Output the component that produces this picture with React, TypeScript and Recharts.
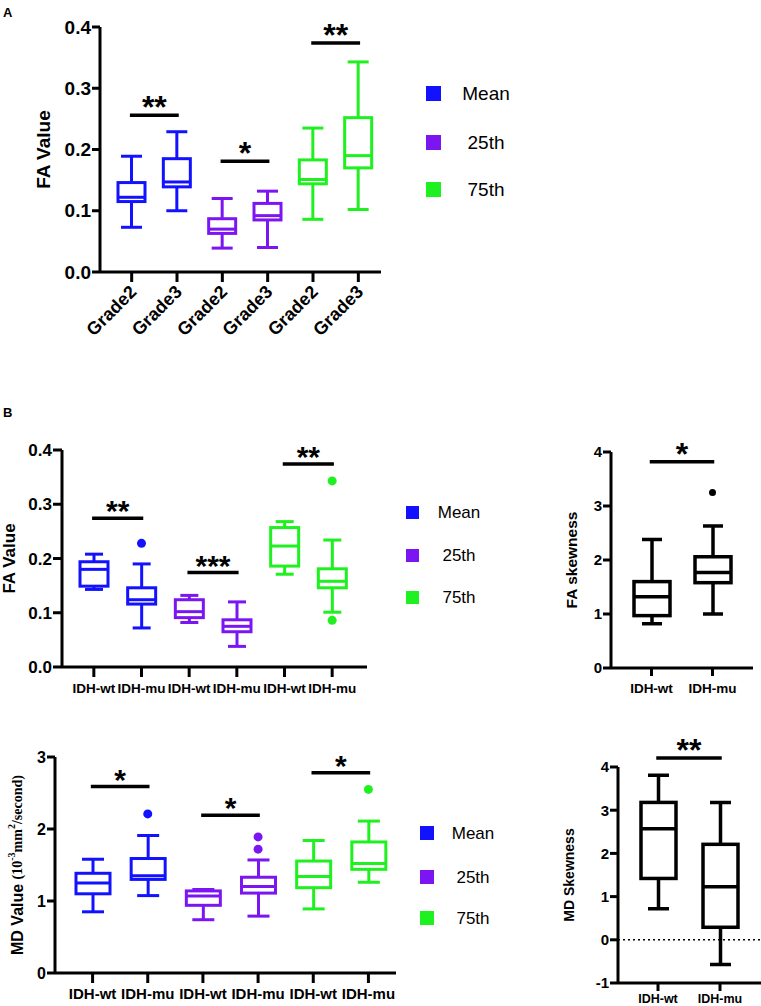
import React from 'react';
import { ComposedChart, Bar, Scatter, XAxis, YAxis, ReferenceLine } from 'recharts';

const FONT = 'Arial, "Liberation Sans", sans-serif';
const SERIF = '"Times New Roman", "Liberation Serif", serif';
const BLUE = '#1212ff';
const PURPLE = '#7b16f3';
const GREEN = '#1ff01f';
const BLACK = '#000000';

// groups: Mean / 25th / 75th
const legendLabels = ['Mean', '25th', '75th'];
const legendColors = [BLUE, PURPLE, GREEN];
const tripleColors = [BLUE, BLUE, PURPLE, PURPLE, GREEN, GREEN];

// A: FA value by grade
const gradeKeys = ['meanG2', 'meanG3', 'p25G2', 'p25G3', 'p75G2', 'p75G3'];
const gradeLabels = ['Grade2', 'Grade3', 'Grade2', 'Grade3', 'Grade2', 'Grade3'];
const faGradeMin = [0.073, 0.1, 0.039, 0.04, 0.086, 0.102];
const faGradeQ1 = [0.115, 0.139, 0.063, 0.085, 0.144, 0.17];
const faGradeMed = [0.122, 0.147, 0.07, 0.092, 0.151, 0.19];
const faGradeQ3 = [0.146, 0.185, 0.087, 0.112, 0.183, 0.252];
const faGradeMax = [0.189, 0.229, 0.12, 0.132, 0.235, 0.343];
const faGradeSig = [
  { from: 'meanG2', to: 'meanG3', y: 0.256, text: '**' },
  { from: 'p25G2', to: 'p25G3', y: 0.181, text: '*' },
  { from: 'p75G2', to: 'p75G3', y: 0.374, text: '**' },
];

// B: FA value by IDH status
const idhKeys = ['meanWt', 'meanMu', 'p25Wt', 'p25Mu', 'p75Wt', 'p75Mu'];
const idhLabels = ['IDH-wt', 'IDH-mu', 'IDH-wt', 'IDH-mu', 'IDH-wt', 'IDH-mu'];
const faIdhMin = [0.143, 0.072, 0.082, 0.038, 0.171, 0.101];
const faIdhQ1 = [0.149, 0.116, 0.091, 0.065, 0.186, 0.146];
const faIdhMed = [0.18, 0.124, 0.102, 0.075, 0.223, 0.158];
const faIdhQ3 = [0.194, 0.146, 0.124, 0.087, 0.257, 0.181];
const faIdhMax = [0.208, 0.19, 0.132, 0.12, 0.268, 0.234];
const faIdhOut1 = [null, 0.228, null, null, null, 0.343];
const faIdhOut2 = [null, null, null, null, null, 0.086];
const faIdhSig = [
  { from: 'meanWt', to: 'meanMu', y: 0.274, text: '**' },
  { from: 'p25Wt', to: 'p25Mu', y: 0.174, text: '***' },
  { from: 'p75Wt', to: 'p75Mu', y: 0.374, text: '**' },
];

// B: FA skewness
const skewKeys = ['wt', 'mu'];
const skewLabels = ['IDH-wt', 'IDH-mu'];
const skewColors = [BLACK, BLACK];
const faSkewMin = [0.82, 1.0];
const faSkewQ1 = [0.97, 1.58];
const faSkewMed = [1.32, 1.77];
const faSkewQ3 = [1.6, 2.06];
const faSkewMax = [2.38, 2.63];
const faSkewOut1 = [null, 3.25];
const faSkewSig = [{ from: 'wt', to: 'mu', y: 3.82, text: '*' }];

// B: MD value by IDH status
const mdIdhMin = [0.85, 1.075, 0.74, 0.79, 0.89, 1.26];
const mdIdhQ1 = [1.1, 1.3, 0.94, 1.11, 1.185, 1.44];
const mdIdhMed = [1.25, 1.35, 1.07, 1.2, 1.34, 1.52];
const mdIdhQ3 = [1.385, 1.59, 1.14, 1.33, 1.555, 1.82];
const mdIdhMax = [1.58, 1.91, 1.16, 1.57, 1.84, 2.11];
const mdIdhOut1 = [null, 2.21, null, 1.89, null, 2.55];
const mdIdhOut2 = [null, null, null, 1.72, null, null];
const mdIdhSig = [
  { from: 'meanWt', to: 'meanMu', y: 2.59, text: '*' },
  { from: 'p25Wt', to: 'p25Mu', y: 2.19, text: '*' },
  { from: 'p75Wt', to: 'p75Mu', y: 2.78, text: '*' },
];

// B: MD skewness
const mdSkewMin = [0.72, -0.57];
const mdSkewQ1 = [1.42, 0.29];
const mdSkewMed = [2.57, 1.23];
const mdSkewQ3 = [3.18, 2.21];
const mdSkewMax = [3.81, 3.18];
const mdSkewSig = [{ from: 'wt', to: 'mu', y: 4.21, text: '**' }];

function buildRows(
  keys: string[],
  labels: string[],
  colors: string[],
  mins: number[],
  q1s: number[],
  meds: number[],
  q3s: number[],
  maxs: number[],
  out1?: (number | null)[],
  out2?: (number | null)[],
) {
  return keys.map((key, i) => ({
    key,
    label: labels[i],
    color: colors[i],
    range: [mins[i], maxs[i]],
    min: mins[i],
    q1: q1s[i],
    median: meds[i],
    q3: q3s[i],
    max: maxs[i],
    out1: out1 ? out1[i] : null,
    out2: out2 ? out2[i] : null,
  }));
}

function boxShape(strokeW: number, capW: number) {
  return function BoxShape(props: any) {
    const { x, y, width, height, payload } = props;
    if (!payload || height == null || isNaN(y)) return <g />;
    const top = Math.min(y, y + height);
    const bottom = Math.max(y, y + height);
    const span = payload.max - payload.min || 1;
    // linear scale between the two band ends the library placed
    const py = (v: number) => bottom - ((v - payload.min) / span) * (bottom - top);
    const cx = x + width / 2;
    const yMax = py(payload.max);
    const yMin = py(payload.min);
    const yQ1 = py(payload.q1);
    const yQ3 = py(payload.q3);
    const yMed = py(payload.median);
    return (
      <g stroke={payload.color} strokeWidth={strokeW} fill="none">
        <line x1={cx} x2={cx} y1={yMax} y2={yQ3} />
        <line x1={cx} x2={cx} y1={yQ1} y2={yMin} />
        <line x1={cx - capW / 2} x2={cx + capW / 2} y1={yMax} y2={yMax} />
        <line x1={cx - capW / 2} x2={cx + capW / 2} y1={yMin} y2={yMin} />
        <rect x={x} y={yQ3} width={width} height={yQ1 - yQ3} fill="#fff" />
        <line x1={x} x2={x + width} y1={yMed} y2={yMed} />
      </g>
    );
  };
}

function dotShape(field: string, r: number) {
  return function Dot(p: any) {
    const v = p.payload ? p.payload[field] : null;
    if (v == null || p.cy == null || isNaN(p.cy)) return <g />;
    return <circle cx={p.cx} cy={p.cy} r={r} fill={p.payload.color} />;
  };
}

function GradeTick({ x, y, payload, labelOf }: any) {
  const ax = x + 6;
  const ay = y + 9;
  return (
    <text
      x={ax}
      y={ay}
      transform={`rotate(-45 ${ax} ${ay})`}
      textAnchor="end"
      fontSize={18}
      fontWeight="bold"
      fontFamily={FONT}
      fill={BLACK}
    >
      {labelOf[payload.value]}
    </text>
  );
}

function plainTitle(text: string, fontSize: number) {
  return (cx: number, cy: number) => (
    <text
      x={cx}
      y={cy}
      transform={`rotate(-90 ${cx} ${cy})`}
      textAnchor="middle"
      dominantBaseline="central"
      fontSize={fontSize}
      fontWeight="bold"
      fontFamily={FONT}
      fill={BLACK}
    >
      {text}
    </text>
  );
}

function mdTitle(cx: number, cy: number) {
  return (
    <text
      x={cx}
      y={cy}
      transform={`rotate(-90 ${cx} ${cy})`}
      textAnchor="middle"
      dominantBaseline="central"
      fill={BLACK}
      fontWeight="bold"
    >
      <tspan fontFamily={FONT} fontSize={16}>MD Value </tspan>
      <tspan fontFamily={SERIF} fontSize={14}>(10</tspan>
      <tspan fontFamily={SERIF} fontSize={10} dy={-6}>-3</tspan>
      <tspan fontFamily={SERIF} fontSize={14} dy={6}>mm</tspan>
      <tspan fontFamily={SERIF} fontSize={10} dy={-6}>2</tspan>
      <tspan fontFamily={SERIF} fontSize={14} dy={6}>/second)</tspan>
    </text>
  );
}

function BoxPanel(props: any) {
  const {
    left, top, width, height, margin, rows, domain, ticks, fmt, yWidth, xHeight, padding,
    tickFont, yTick, xTick, xTickMargin, xFont, barSize, cap, strokeW, sig, title, titleX,
    rotateX, zeroLine, dotR, starSize,
  } = props;
  const labelOf: Record<string, string> = Object.fromEntries(rows.map((r: any) => [r.key, r.label]));
  const plotTop = margin.top;
  const plotBottom = height - margin.bottom - xHeight;
  const cy = (plotTop + plotBottom) / 2;
  const axisStyle = { stroke: BLACK, strokeWidth: 3 };
  return (
    <div style={{ position: 'absolute', left, top, width, height }}>
      <ComposedChart width={width} height={height} data={rows} margin={margin}>
        <XAxis
          dataKey="key"
          type="category"
          height={xHeight}
          padding={padding}
          interval={0}
          tickSize={xTick}
          tickMargin={xTickMargin}
          axisLine={axisStyle}
          tickLine={axisStyle}
          tickFormatter={(k: string) => labelOf[k]}
          tick={
            rotateX ? (
              <GradeTick labelOf={labelOf} />
            ) : (
              { fill: BLACK, fontSize: xFont, fontWeight: 'bold', fontFamily: FONT }
            )
          }
        />
        <YAxis
          type="number"
          domain={domain}
          ticks={ticks}
          interval={0}
          allowDataOverflow
          width={yWidth}
          tickSize={yTick}
          tickMargin={1}
          tickFormatter={fmt}
          axisLine={axisStyle}
          tickLine={axisStyle}
          tick={{ fill: BLACK, fontSize: tickFont, fontWeight: 'bold', fontFamily: FONT }}
          label={{ content: () => title(titleX, cy) }}
        />
        {zeroLine && (
          <ReferenceLine y={0} stroke={BLACK} strokeWidth={1.6} strokeDasharray="2 3" />
        )}
        <Bar
          dataKey="range"
          barSize={barSize}
          shape={boxShape(strokeW, cap)}
          isAnimationActive={false}
        />
        <Scatter dataKey="out1" shape={dotShape('out1', dotR)} isAnimationActive={false} />
        <Scatter dataKey="out2" shape={dotShape('out2', dotR)} isAnimationActive={false} />
        {sig.map((s: any) => (
          <ReferenceLine
            key={s.from}
            segment={[
              { x: s.from, y: s.y },
              { x: s.to, y: s.y },
            ]}
            stroke={BLACK}
            strokeWidth={3.5}
            strokeLinecap="square"
            ifOverflow="visible"
            label={{
              value: s.text,
              position: 'top',
              offset: -3,
              fill: BLACK,
              fontSize: starSize,
              fontWeight: 'bold',
              fontFamily: FONT,
            }}
          />
        ))}
      </ComposedChart>
    </div>
  );
}

function GroupLegend({ left, centers, size, textX, fontSize }: any) {
  return (
    <>
      {legendLabels.map((name, i) => (
        <React.Fragment key={name}>
          <div
            style={{
              position: 'absolute',
              left,
              top: centers[i] - size / 2,
              width: size,
              height: size,
              background: legendColors[i],
            }}
          />
          <div
            style={{
              position: 'absolute',
              left: textX - 40,
              width: 80,
              top: centers[i],
              transform: 'translateY(-50%)',
              textAlign: 'center',
              fontFamily: FONT,
              fontSize,
              lineHeight: 1,
              color: BLACK,
            }}
          >
            {name}
          </div>
        </React.Fragment>
      ))}
    </>
  );
}

const letterStyle: React.CSSProperties = {
  position: 'absolute',
  left: 3,
  fontFamily: FONT,
  fontWeight: 'bold',
  fontSize: 13,
  lineHeight: 1,
};

export default function App() {
  const faGradeRows = buildRows(gradeKeys, gradeLabels, tripleColors, faGradeMin, faGradeQ1, faGradeMed, faGradeQ3, faGradeMax);
  const faIdhRows = buildRows(idhKeys, idhLabels, tripleColors, faIdhMin, faIdhQ1, faIdhMed, faIdhQ3, faIdhMax, faIdhOut1, faIdhOut2);
  const faSkewRows = buildRows(skewKeys, skewLabels, skewColors, faSkewMin, faSkewQ1, faSkewMed, faSkewQ3, faSkewMax, faSkewOut1);
  const mdIdhRows = buildRows(idhKeys, idhLabels, tripleColors, mdIdhMin, mdIdhQ1, mdIdhMed, mdIdhQ3, mdIdhMax, mdIdhOut1, mdIdhOut2);
  const mdSkewRows = buildRows(skewKeys, skewLabels, skewColors, mdSkewMin, mdSkewQ1, mdSkewMed, mdSkewQ3, mdSkewMax);

  return (
    <div
      style={{
        position: 'absolute',
        left: 0,
        top: 0,
        width: 761,
        height: 1006,
        background: '#fff',
        overflow: 'hidden',
      }}
    >
      <div style={{ ...letterStyle, top: 6 }}>A</div>
      <div style={{ ...letterStyle, top: 406 }}>B</div>

      <BoxPanel
        left={0}
        top={0}
        width={400}
        height={350}
        margin={{ top: 27, right: 19, left: 40, bottom: 8 }}
        rows={faGradeRows}
        domain={[0, 0.4]}
        ticks={[0, 0.1, 0.2, 0.3, 0.4]}
        fmt={(v: number) => v.toFixed(1)}
        yWidth={60}
        xHeight={70}
        padding={{ left: 9, right: 0 }}
        tickFont={19}
        yTick={8}
        xTick={10}
        xTickMargin={2}
        xFont={17}
        barSize={27}
        cap={21}
        strokeW={3}
        dotR={4.5}
        starSize={32}
        sig={faGradeSig}
        title={plainTitle('FA Value', 19)}
        titleX={43}
        rotateX
      />
      <GroupLegend left={426} centers={[93, 142, 189]} size={15} textX={486} fontSize={19} />

      <BoxPanel
        left={0}
        top={400}
        width={400}
        height={300}
        margin={{ top: 50, right: 33, left: 22, bottom: 3 }}
        rows={faIdhRows}
        domain={[0, 0.4]}
        ticks={[0, 0.1, 0.2, 0.3, 0.4]}
        fmt={(v: number) => v.toFixed(1)}
        yWidth={40}
        xHeight={30}
        padding={{ left: 8, right: 11 }}
        tickFont={17}
        yTick={9}
        xTick={10}
        xTickMargin={6}
        xFont={13.5}
        barSize={28}
        cap={18}
        strokeW={3}
        dotR={4.5}
        starSize={30}
        sig={faIdhSig}
        title={plainTitle('FA Value', 17)}
        titleX={9}
      />
      <GroupLegend left={406} centers={[512, 555, 597]} size={13} textX={459} fontSize={17} />

      <BoxPanel
        left={540}
        top={400}
        width={221}
        height={300}
        margin={{ top: 52, right: 8, left: 31, bottom: 2 }}
        rows={faSkewRows}
        domain={[0, 4]}
        ticks={[0, 1, 2, 3, 4]}
        fmt={(v: number) => String(v)}
        yWidth={40}
        xHeight={30}
        padding={{ left: 10, right: 10 }}
        tickFont={15}
        yTick={8}
        xTick={8}
        xTickMargin={7}
        xFont={13.5}
        barSize={36}
        cap={20}
        strokeW={3.5}
        dotR={3.5}
        starSize={32}
        sig={faSkewSig}
        title={plainTitle('FA skewness', 15.5)}
        titleX={31}
      />

      <BoxPanel
        left={0}
        top={700}
        width={420}
        height={306}
        margin={{ top: 57, right: 24, left: 20, bottom: 2 }}
        rows={mdIdhRows}
        domain={[0, 3]}
        ticks={[0, 1, 2, 3]}
        fmt={(v: number) => String(v)}
        yWidth={35}
        xHeight={31}
        padding={{ left: 10, right: 0 }}
        tickFont={16}
        yTick={8}
        xTick={10}
        xTickMargin={5}
        xFont={15}
        barSize={34}
        cap={22}
        strokeW={3}
        dotR={4.5}
        starSize={30}
        sig={mdIdhSig}
        title={mdTitle}
        titleX={17}
      />
      <GroupLegend left={420} centers={[833, 877, 918]} size={14} textX={473} fontSize={17} />

      <BoxPanel
        left={540}
        top={700}
        width={221}
        height={306}
        margin={{ top: 67, right: 0, left: 38, bottom: 2 }}
        rows={mdSkewRows}
        domain={[-1, 4]}
        ticks={[-1, 0, 1, 2, 3, 4]}
        fmt={(v: number) => String(v)}
        yWidth={40}
        xHeight={21}
        padding={{ left: 9, right: 10 }}
        tickFont={15}
        yTick={8}
        xTick={8}
        xTickMargin={3}
        xFont={12.5}
        barSize={35}
        cap={21}
        strokeW={3.5}
        dotR={3.5}
        starSize={32}
        sig={mdSkewSig}
        title={plainTitle('MD Skewness', 14)}
        titleX={29}
        zeroLine
      />
    </div>
  );
}
